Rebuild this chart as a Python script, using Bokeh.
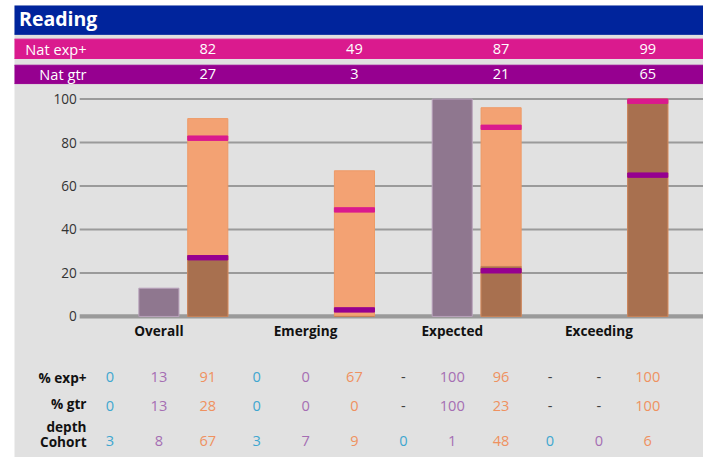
from bokeh.plotting import figure
from bokeh.models import Range1d, FixedTicker
from bokeh.embed import file_html
from bokeh.resources import INLINE
from bokeh.core.properties import value

# ---------------- data ----------------
subject = "Reading"
categories = ["Overall", "Emerging", "Expected", "Exceeding"]
nat_exp = [82, 49, 87, 99]
nat_gtr = [27, 3, 21, 65]
exp_low = ["0", "0", "-", "-"]
exp_mid = ["13", "0", "100", "-"]
exp_high = ["91", "67", "96", "100"]
gtr_low = ["0", "0", "-", "-"]
gtr_mid = ["13", "0", "100", "-"]
gtr_high = ["28", "0", "23", "100"]
coh_low = ["3", "3", "0", "0"]
coh_mid = ["8", "7", "1", "0"]
coh_high = ["67", "9", "48", "6"]
row_labels = ["% exp+", "% gtr\ndepth", "Cohort"]
band_labels = ["Nat exp+", "Nat gtr"]
y_ticks = [0, 20, 40, 60, 80, 100]

# ---------------- styles ----------------
FONT = value("Open Sans")
GREY_BG = "#E1E1E1"
BLUE = "#00249C"
PINK = "#DA1A8E"
PURPLE_BAND = "#960090"
MAUVE = "#8F778F"
ORANGE = "#F3A273"
BROWN = "#A8704F"
TEAL_T = "#3FA7D0"
PURP_T = "#A56EB3"
ORNG_T = "#EF9160"
DASH_T = "#404040"
GRID_C = "#9A9A9A"
series_colors = [TEAL_T, PURP_T, ORNG_T]

W, H = 703, 457
SX, SY = W / 719, H / 473   # design space -> canvas


def num(s):
    return None if s == "-" else float(s)


def xpos(i, j):
    return 3 * i + j


# layout helpers (design space): 50 px per slot, slot 0 at x 112; 2.25 px per unit, 0 at y 327
def ux(dx):
    return (dx - 112) / 50


def vy(dy):
    return (327 - dy) / 2.25


LEFT_WHITE, TOP_WHITE = 14, 5
XL, XR = ux(LEFT_WHITE / SX), ux(719)
X_AXIS = ux(81)      # where the gridlines start
X_LAB = ux(88)       # right edge of row labels

p = figure(width=W, height=H, x_range=Range1d(XL, XR), y_range=Range1d(vy(473), vy(TOP_WHITE / SY)),
           output_backend="svg", toolbar_location=None,
           min_border=0, min_border_left=LEFT_WHITE, min_border_top=TOP_WHITE)
p.xaxis.visible = False
p.xgrid.visible = False
p.ygrid.visible = False
p.outline_line_color = None
p.background_fill_color = GREY_BG
p.border_fill_color = "white"

# y axis inside the frame
p.yaxis.fixed_location = X_AXIS
p.yaxis.ticker = FixedTicker(ticks=y_ticks)
p.yaxis.axis_line_color = None
p.yaxis.major_tick_line_color = None
p.yaxis.minor_tick_line_color = None
p.yaxis.major_tick_out = 0
p.yaxis.major_tick_in = 0
p.yaxis.minor_tick_out = 0
p.yaxis.minor_tick_in = 0
p.yaxis.major_label_standoff = 3
p.yaxis.major_label_text_font = "Open Sans"
p.yaxis.major_label_text_font_size = "13.6px"
p.yaxis.major_label_text_color = "#333333"

# gridlines (starting at the axis) and thick baseline
grid_y = [t for t in y_ticks if t != 0]
p.segment(x0=[X_AXIS] * len(grid_y), x1=[XR + 1] * len(grid_y), y0=grid_y, y1=grid_y,
          line_color=GRID_C, line_width=2)
p.segment(x0=[X_AXIS], x1=[XR + 1], y0=[0], y1=[0], line_color=GRID_C, line_width=4.2)

# header bands
p.quad(left=[XL - 1], right=[XR + 1], top=[vy(0)], bottom=[vy(35)], color=BLUE)
p.quad(left=[XL - 1] * 2, right=[XR + 1] * 2, top=[vy(40), vy(67)], bottom=[vy(60), vy(86)],
       color=[PINK, PURPLE_BAND])
p.text(x=[ux(19)], y=[vy(19)], text=[subject], text_font=FONT, text_font_size="19.5px",
       text_font_style="bold", text_color="white", text_baseline="middle")
p.text(x=[X_LAB] * 2, y=[vy(50.5), vy(76.5)], text=band_labels, text_font=FONT,
       text_font_size="14.6px", text_color="white", text_align="right", text_baseline="middle")
hx = [xpos(i, 2) for i in range(4)]
p.text(x=hx + hx, y=[vy(50.5)] * 4 + [vy(76.5)] * 4, text=[str(v) for v in nat_exp + nat_gtr],
       text_font=FONT, text_font_size="14.6px", text_color="white",
       text_align="center", text_baseline="middle")

# bars
mid_x, mid_top = [], []
hi_x, hi_top, gt_top = [], [], []
for i in range(4):
    m = num(exp_mid[i])
    if m:
        mid_x.append(xpos(i, 1)); mid_top.append(m)
    h = num(exp_high[i])
    if h:
        hi_x.append(xpos(i, 2)); hi_top.append(h)
        gt_top.append(num(gtr_high[i]) or 0)
p.vbar(x=mid_x, top=mid_top, bottom=0, width=0.82, fill_color=MAUVE, line_color="#B9A2BC",
       line_width=1)
p.vbar(x=hi_x, top=hi_top, bottom=0, width=0.82, fill_color=ORANGE, line_color="#EE9A66",
       line_width=1)
p.vbar(x=hi_x, top=gt_top, bottom=0, width=0.82, fill_color=BROWN, line_color="#C4825A",
       line_width=1)
p.rect(x=hx, y=nat_exp, width=0.82, height=4.4, height_units="screen", color=PINK)
p.rect(x=hx, y=nat_gtr, width=0.82, height=4.4, height_units="screen", color=PURPLE_BAND)

# category labels and table
p.text(x=[xpos(i, 1) for i in range(4)], y=[vy(341.5)] * 4, text=categories, text_font=FONT,
       text_font_size="13.6px", text_font_style="bold", text_color="#111111",
       text_align="center", text_baseline="middle")
p.text(x=[X_LAB] * 3, y=[vy(390), vy(429), vy(456)], text=row_labels, text_font=FONT,
       text_font_size="13.6px", text_font_style="bold", text_color="#111111",
       text_align="right", text_baseline="middle", text_line_height=1.22)

tx, ty, tt, tc = [], [], [], []
for yrow, rows in [(390, [exp_low, exp_mid, exp_high]), (420, [gtr_low, gtr_mid, gtr_high]),
                   (456, [coh_low, coh_mid, coh_high])]:
    for j, arr in enumerate(rows):
        for i, v in enumerate(arr):
            tx.append(xpos(i, j)); ty.append(vy(yrow)); tt.append(v)
            tc.append(DASH_T if v == "-" else series_colors[j])
p.text(x=tx, y=ty, text=tt, text_color=tc, text_font=FONT, text_font_size="14.6px",
       text_align="center", text_baseline="middle")

open("out.html", "w").write(file_html(p, INLINE))
